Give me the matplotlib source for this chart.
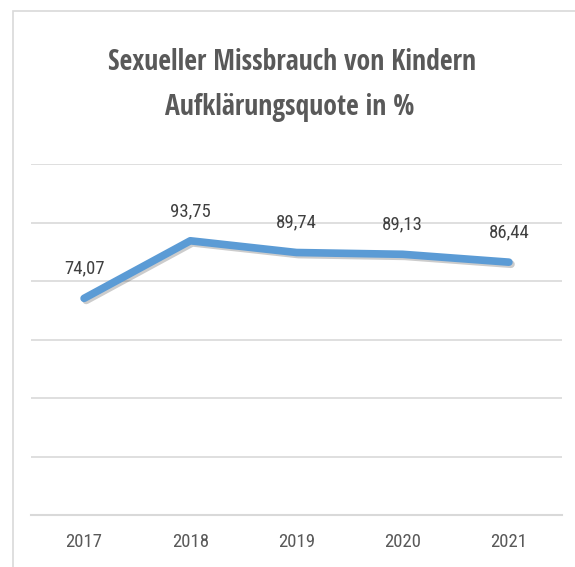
import matplotlib.pyplot as plt
import matplotlib.patheffects as pe
from matplotlib.patches import Rectangle

# Data
years = ["2017", "2018", "2019", "2020", "2021"]
quote = [74.07, 93.75, 89.74, 89.13, 86.44]
labels = ["74,07", "93,75", "89,74", "89,13", "86,44"]

plt.rcParams["font.family"] = ["Roboto Condensed", "DejaVu Sans"]
title_font = ["Open Sans Condensed", "DejaVu Sans"]

W, H = 575, 567
fig = plt.figure(figsize=(W / 100, H / 100), dpi=100)

# outer chart frame (only left and top visible)
fig.patches.append(Rectangle((13 / W, -0.1), 1.2, 1.1 - 11 / H, transform=fig.transFigure,
                             fill=False, edgecolor="#d9d9d9", linewidth=1.2))

ax = fig.add_axes([31 / W, 1 - 515 / H, (562 - 31) / W, (515 - 164) / H])
x = list(range(len(years)))
ax.plot(x, quote, color="#5b9bd5", linewidth=5.5, solid_capstyle="round", solid_joinstyle="round",
        path_effects=[pe.SimpleLineShadow(offset=(1.5, -1.5), shadow_color="black", alpha=0.2),
                      pe.Normal()])

for xi, v, lab in zip(x, quote, labels):
    ax.annotate(lab, (xi, v), xytext=(0, 21.5), textcoords="offset points",
                ha="center", va="center", fontsize=13.5, color="#404040")

ax.set_xlim(-0.5, 4.5)
ax.set_ylim(0, 120)
ax.set_yticks([0, 20, 40, 60, 80, 100, 120])
ax.set_yticklabels([])
ax.set_xticks(x)
ax.set_xticklabels(years, fontsize=13.5, color="#595959")
ax.tick_params(axis="both", length=0, pad=13)
ax.grid(axis="y", color="#d9d9d9", linewidth=1.2)
ax.set_axisbelow(True)
for s in ["top", "right", "left"]:
    ax.spines[s].set_visible(False)
ax.spines["bottom"].set_color("#d9d9d9")
ax.spines["bottom"].set_linewidth(1.5)

fig.text(292 / W, 1 - 62 / H, "Sexueller Missbrauch von Kindern", ha="center", va="center",
         fontsize=20, color="#595959", fontweight="bold", family=title_font)
fig.text(290 / W, 1 - 107 / H, "Aufklärungsquote in %", ha="center", va="center",
         fontsize=20, color="#595959", fontweight="bold", family=title_font)

fig.savefig("out.png", dpi=100)
